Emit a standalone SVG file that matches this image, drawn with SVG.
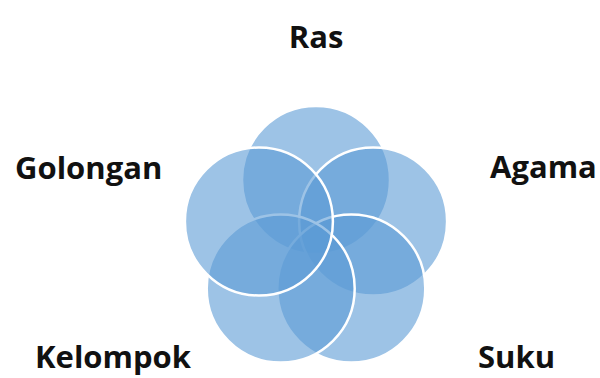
<svg xmlns="http://www.w3.org/2000/svg" width="600" height="378" viewBox="0 0 600 378">
<style>
.c{fill:#5B9BD5;fill-opacity:0.6;stroke:#ffffff;stroke-width:2.5}
.t{font-family:"Open Sans","Liberation Sans",sans-serif;font-weight:bold;font-size:31px;fill:#111111}
</style>
<rect width="600" height="378" fill="#ffffff"/>
<g id="ras"><circle class="c" cx="316" cy="180" r="74"/></g>
<g id="agama"><circle class="c" cx="373.1" cy="221.5" r="74"/></g>
<g id="suku"><circle class="c" cx="351.3" cy="288.5" r="74"/></g>
<g id="kelompok"><circle class="c" cx="280.7" cy="288.5" r="74"/></g>
<g id="golongan"><circle class="c" cx="258.9" cy="221.5" r="74"/></g>
<g id="labels">
<text class="t" x="316" y="48" text-anchor="middle">Ras</text>
<text class="t" x="15" y="179">Golongan</text>
<text class="t" x="490" y="178">Agama</text>
<text class="t" x="35" y="368">Kelompok</text>
<text class="t" x="478" y="368">Suku</text>
</g>
</svg>
